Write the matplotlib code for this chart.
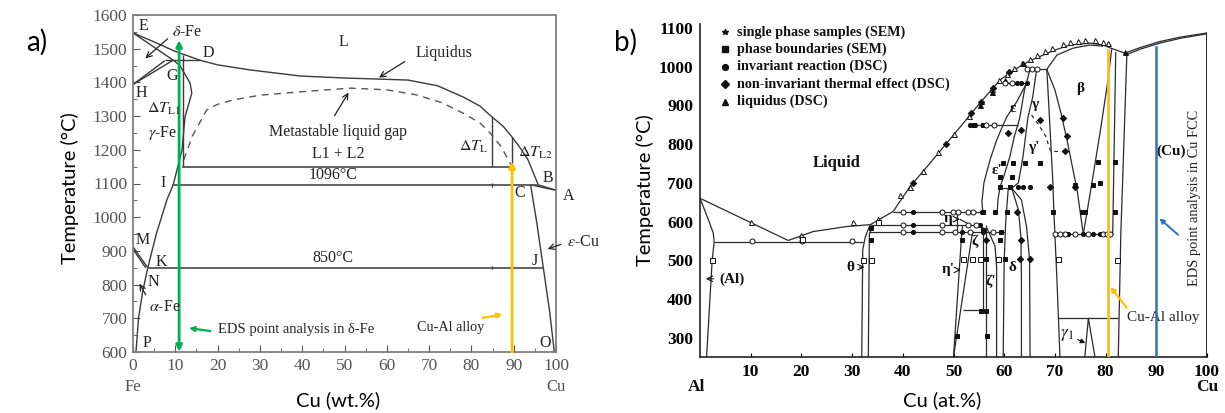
import matplotlib
matplotlib.use("Agg")
import matplotlib.pyplot as plt
from matplotlib.ticker import MultipleLocator

plt.rcParams["mathtext.fontset"] = "stix"
SERIF = ["Liberation Serif", "DejaVu Serif"]
SANS = ["Lato", "DejaVu Sans"]

# ---------------- Fe-Cu phase diagram (wt.% Cu) ----------------
fe_liquidus = [(0, 1547), (5, 1520), (10, 1492), (15.8, 1466), (20, 1452), (27.7, 1437),
               (39.5, 1419), (50, 1413), (57.6, 1410), (65, 1407), (72, 1390), (78, 1357),
               (82, 1330), (84.9, 1297), (87.5, 1270), (89.6, 1238), (91.5, 1206),
               (93.4, 1170), (95.8, 1096)]
fe_delta_solidus = [(0, 1547), (9.5, 1466)]
fe_peritectic = [(7.5, 1466), (15.8, 1466)]
fe_delta_gamma_a = [(0, 1394), (7.5, 1464)]
fe_delta_gamma_b = [(0, 1394), (9.5, 1466)]
fe_gamma_solidus = [(9.5, 1466), (11.1, 1450), (13.5, 1398), (13.9, 1368), (12.3, 1298),
                    (11.6, 1200), (10.6, 1150), (9.5, 1096)]
fe_gamma_solvus = [(9.5, 1096), (8.0, 1051), (5.5, 950), (3.5, 850)]
fe_alpha_solvus = [(3.5, 850), (2.3, 780), (1.3, 700), (0.7, 600)]
fe_m_line_a = [(0, 912), (3.5, 850)]
fe_m_line_b = [(0, 905), (3.0, 850)]
fe_eutectoid = [(3.5, 850), (97.0, 850)]
fe_monotectic = [(9.5, 1096), (95.8, 1096)]
fe_l1l2_line = [(11.8, 1150), (89.6, 1150)]
fe_dT_L1 = [(11.8, 1150), (11.8, 1481)]
fe_dT_L = [(84.9, 1150), (84.9, 1297)]
fe_dT_L2 = [(89.6, 1150), (89.6, 1238)]
fe_cu_liquidus = [(95.8, 1096), (100, 1080)]
fe_cu_solidus = [(94.0, 1096), (100, 1080)]
fe_cu_solvus = [(94.0, 1096), (95.5, 980), (97.0, 850), (98.5, 720), (99.6, 600)]
fe_gap_x = [12, 14, 17.4, 20, 23.7, 30, 39.5, 51.3, 60, 67, 73, 78, 82, 84.4, 87, 89.6]
fe_gap_T = [1170, 1240, 1318, 1335, 1348, 1362, 1372, 1383, 1378, 1363, 1340, 1309,
            1280, 1250, 1210, 1150]
fe_xticks = list(range(0, 101, 10))
fe_yticks = list(range(600, 1601, 100))
fe_eds_x = 10.9
fe_alloy_x = 89.6

# ---------------- Al-Cu phase diagram (at.% Cu) ----------------
al_liquidus = [(0, 660), (17.4, 551)]
al_solidus = [(0, 660), (1.5, 610), (2.6, 571), (2.8, 548)]
al_solvus = [(2.8, 548), (2.4, 500), (1.3, 250)]
al_eutectic = [(2.8, 548), (32.2, 548)]
main_liquidus = [(17.4, 551), (22.3, 574), (28.9, 587), (33.6, 592), (38.1, 626), (41.4, 690),
                 (45, 745), (48.5, 800), (52, 855), (55.2, 906), (59.2, 966), (62.5, 996),
                 (65, 1015), (67.7, 1030), (70, 1043), (73, 1056), (77, 1061), (79.5, 1056),
                 (81, 1048), (83.8, 1035)]
cu_liquidus = [(83.8, 1035), (87, 1050), (90.7, 1065), (95, 1077), (100, 1087)]
cu_solidus = [(84.3, 1032), (87, 1046), (90.7, 1061), (95, 1074), (100, 1085)]
beta_top = [(68.4, 993), (70.4, 1030), (73.6, 1048), (76.9, 1056), (79.5, 1053)]
theta_left = [(31.9, 250), (32.1, 527), (32.6, 560), (33.5, 590)]
theta_right = [(33.2, 250), (33.4, 566), (33.9, 586)]
iso_624 = [(38.1, 624), (55.9, 624)]
iso_590 = [(33.6, 590), (54.8, 590)]
iso_574 = [(33.4, 574), (60.2, 574)]
iso_850 = [(52.9, 850), (62.7, 850)]
iso_957 = [(59.8, 957), (64.4, 957)]
iso_993 = [(65.1, 993), (68.4, 993)]
iso_686 = [(58.8, 686), (61.5, 686)]
iso_567 = [(70.0, 567), (81.4, 567)]
iso_350 = [(70.7, 350), (82.5, 350)]
eta_box = [(50.6, 624), (50.6, 574)]
eta_diag = [(51.2, 606), (53.5, 590)]
etap_left = [(50.0, 250), (51.6, 565), (51.8, 590)]
etap_right = [(50.0, 250), (53.6, 560), (53.9, 574)]
zeta_top = [(54.8, 590), (56.0, 582), (56.5, 574)]
zeta_left = [(55.8, 574), (55.8, 372)]
zeta_floor = [(51.9, 372), (56.2, 372)]
zetap_left = [(56.5, 590), (56.5, 250)]
zetap_right = [(56.6, 583), (58.2, 536), (58.5, 484), (58.5, 250)]
eps1_outer = [(64.4, 957), (62.5, 910), (60.5, 870), (59.8, 850), (58.5, 810), (57.2, 759),
              (56.0, 700), (55.6, 650), (55.8, 624)]
eps1_inner = [(65.1, 993), (64.0, 940), (63.1, 870), (62.7, 850), (62.0, 820), (61.1, 767),
              (60.0, 720), (59.2, 690), (58.8, 660), (58.6, 624)]
gamma_left = [(66.4, 993), (65.6, 920), (64.7, 870), (63.7, 767), (62.8, 700), (61.5, 686)]
gamma_beta = [(68.4, 993), (68.8, 900), (69.2, 800), (69.6, 700), (69.8, 624), (70.0, 567),
              (70.4, 450), (70.7, 350), (71.0, 250)]
beta_left = [(68.4, 993), (70.0, 940), (71.2, 880), (72.4, 810), (73.3, 751), (74.4, 680),
             (75.6, 567)]
beta_right = [(75.6, 567), (77.3, 700), (78.9, 829), (80.3, 950), (81.2, 1045)]
beta_cu = [(82.0, 1038), (81.7, 800), (81.4, 567)]
cu_solvus = [(84.2, 1034), (83.6, 800), (83.0, 567), (82.5, 250)]
gamma1 = [(75.9, 250), (76.6, 350), (77.9, 250)]
delta_a = [(60.8, 686), (60.3, 600), (60.0, 500), (59.8, 250)]
delta_b = [(61.5, 686), (62.8, 630), (63.3, 560), (63.4, 450), (63.4, 250)]
delta_c = [(61.5, 686), (63.4, 656), (64.4, 587), (65.0, 503), (65.1, 250)]
gamma_order = [(65.4, 875), (66.8, 850), (68.2, 820), (68.8, 795), (69.2, 781), (72.6, 781)]
cu_edge = [(100, 250), (100, 1087)]

# measured points
liq_tri_open_x = [10, 20, 30.2, 35.1, 39.5, 41.5, 44, 47, 50, 53, 55.5, 57.5, 59, 60.5, 62,
                  63.5, 65, 66.5, 68, 69.5, 71.5, 73, 74.5, 76, 78, 79.5, 80.5]
liq_tri_open_T = [600, 566, 600, 606, 668, 690, 730, 780, 826, 873, 912, 942, 965, 982, 996,
                  1010, 1021, 1031, 1040, 1048, 1058, 1063, 1067, 1069, 1068, 1064, 1060]
liq_tri_fill_x = [55.2, 57.5, 60.2, 63.7, 83.8]
liq_tri_fill_T = [901, 935, 966, 1009, 1037]
noninv_x = [42.0, 48.5, 53.5, 55.5, 57.8, 61.0, 60.8, 63.4, 67.1, 71.6, 72.4, 69.0, 74.0,
            62.5, 63.4, 65.1, 63.1, 56.5, 72.0]
noninv_T = [700, 800, 880, 910, 945, 985, 829, 837, 863, 867, 820, 690, 690, 624, 553,
            503, 503, 553, 781]
bound_x = [33.7, 33.7, 51.6, 59.2, 55.5, 56.5, 50.6, 56.6, 59.2, 61.5, 59.2, 61.2, 55.8,
           58.2, 60.5, 69.6, 75.3, 76.0, 81.9, 55.8, 59.3, 78.5, 81.9, 77.6, 74.0, 78.9,
           59.8, 61.8, 64.1, 67.1, 56.5, 60.2, 54.0, 55.8]
bound_T = [583, 553, 553, 553, 368, 368, 303, 303, 716, 716, 690, 690, 624, 624, 624, 624,
           624, 624, 624, 577, 574, 755, 755, 695, 695, 700, 751, 751, 751, 751, 503, 503,
           850, 850]
inv_x = [42.1, 55.6, 42.1, 55.2, 42.1, 51.6, 55.8, 53.3, 54.2, 62.5, 63.4, 64.4, 72.6,
         77.5, 78.9, 75.6, 62.8, 63.7, 65.1]
inv_T = [624, 624, 590, 590, 574, 574, 574, 850, 850, 957, 957, 957, 567, 567, 567, 567,
         690, 690, 690]
open_circ_x = [10.2, 20.1, 29.9, 40.1, 47.7, 49.9, 50.9, 52.9, 53.9, 40.1, 47.7, 52.9, 54.5,
               40.1, 47.7, 50.2, 53.2, 57.7, 56.5, 57.9, 60.2, 61.5, 64.4, 65.4, 66.4, 70.0,
               71.0, 72.0, 74.0, 76.5, 79.5, 80.2, 80.9]
open_circ_T = [550, 550, 550, 624, 624, 624, 624, 624, 624, 590, 590, 590, 590, 574, 574,
               574, 574, 574, 850, 850, 957, 957, 993, 993, 993, 567, 567, 567, 567, 567,
               567, 567, 567]
open_sq_x = [2.3, 20.1, 32.1, 33.7, 35.1, 51.9, 53.6, 55.2, 58.8, 70.7, 82.2]
open_sq_T = [501, 555, 501, 501, 600, 503, 503, 503, 503, 503, 501]
al_xticks = list(range(10, 101, 10))
al_yticks = list(range(300, 1101, 100))
al_eds_x = 90
al_alloy_x = 80.5
legend_labels = ["single phase samples (SEM)", "phase boundaries (SEM)",
                 "invariant reaction (DSC)", "non-invariant thermal effect (DSC)",
                 "liquidus (DSC)"]
legend_T = [1090, 1045, 1000, 955, 910]

GREEN = "#00b050"
GOLD = "#ffc000"
BLUE = "#2e75b6"
LINE_A = "#3a3a3a"
GRAY = "#555555"


def trace(ax, pts, **kw):
    xs, ys = zip(*pts)
    ax.plot(xs, ys, **kw)


fig = plt.figure(figsize=(12.25, 4.13), dpi=100)

# ======================= panel a =======================
axA = fig.add_axes([133 / 1225, 61 / 413, 423 / 1225, 337 / 413])
axA.set_xlim(0, 100)
axA.set_ylim(600, 1600)
for sp in axA.spines.values():
    sp.set_color("#7f7f7f")
    sp.set_linewidth(1.3)
axA.set_xticks(fe_xticks)
axA.set_yticks(fe_yticks)
axA.xaxis.set_minor_locator(MultipleLocator(5))
axA.yaxis.set_minor_locator(MultipleLocator(50))
axA.tick_params(which="both", direction="in", top=False, right=False, color="#555555",
                labelcolor=GRAY, labelsize=12.5, pad=4)
axA.tick_params(which="major", length=5)
axA.tick_params(which="minor", length=3)
for lab in axA.get_xticklabels() + axA.get_yticklabels():
    lab.set_family(SERIF)

kwA = dict(color=LINE_A, lw=1.0, solid_capstyle="butt")
for seg in [fe_liquidus, fe_delta_solidus, fe_peritectic, fe_delta_gamma_a, fe_delta_gamma_b,
            fe_gamma_solidus, fe_gamma_solvus, fe_alpha_solvus, fe_m_line_a, fe_m_line_b,
            fe_cu_liquidus, fe_cu_solidus, fe_cu_solvus, fe_dT_L1, fe_dT_L, fe_dT_L2]:
    trace(axA, seg, **kwA)
for seg in [fe_eutectoid, fe_monotectic, fe_l1l2_line]:
    trace(axA, seg, color="#555555", lw=1.3)
axA.plot(fe_gap_x, fe_gap_T, color="#555555", lw=1.0, ls=(0, (5, 4)))
axA.plot([84.9, 84.9], [1090, 1102], **kwA)
axA.plot([84.9, 84.9], [845, 856], **kwA)

# marker lines for the analysed compositions
axA.annotate("", xy=(fe_eds_x, 1525), xytext=(fe_eds_x, 601),
             arrowprops=dict(arrowstyle="<|-|>", color=GREEN, lw=2, mutation_scale=9,
                             shrinkA=0, shrinkB=0))
axA.annotate("", xy=(fe_alloy_x, 1165), xytext=(fe_alloy_x, 600),
             arrowprops=dict(arrowstyle="-|>", color=GOLD, lw=2, mutation_scale=9,
                             shrinkA=0, shrinkB=0))
axA.annotate("", xy=(12.6, 672), xytext=(18.9, 661),
             arrowprops=dict(arrowstyle="-|>", color=GREEN, lw=1.6, mutation_scale=7))
axA.annotate("", xy=(88.0, 713), xytext=(82.0, 700),
             arrowprops=dict(arrowstyle="-|>", color=GOLD, lw=1.6, mutation_scale=7))

tA = dict(family=SERIF, fontsize=11.5, color="#222222", ha="center", va="center")
axA.text(2.4, 1568, "E", **tA)
axA.text(12.8, 1550, r"$\delta$-Fe", **tA)
axA.annotate("", xy=(2.4, 1466), xytext=(8.7, 1535),
             arrowprops=dict(arrowstyle="->", color="#222222", lw=0.9))
axA.text(17.8, 1487, "D", **tA)
axA.text(9.2, 1419, "G", **tA)
axA.text(2.1, 1368, "H", **tA)
axA.text(7.3, 1322, r"$\Delta T_{\mathrm{L1}}$", **tA)
axA.text(7.1, 1250, r"$\gamma$-Fe", **tA)
axA.text(7.0, 1101, "I", **tA)
axA.text(49.7, 1520, "L", **tA)
axA.text(73.5, 1487, "Liquidus", **tA)
axA.annotate("", xy=(57.6, 1410), xytext=(64.8, 1466),
             arrowprops=dict(arrowstyle="->", color="#222222", lw=0.9))
axA.text(48.5, 1253, "Metastable liquid gap", **tA)
axA.annotate("", xy=(51.3, 1377), xytext=(47.3, 1294),
             arrowprops=dict(arrowstyle="->", color="#222222", lw=0.9))
axA.text(48.5, 1188, "L1 + L2", **tA)
axA.text(47.3, 1125, "1096°C", **tA)
axA.text(80.5, 1208, r"$\Delta T_{\mathrm{L}}$", **tA)
axA.text(95.0, 1190, r"$\Delta T_{\mathrm{L2}}$", **tA)
axA.text(98.0, 1116, "B", **tA)
axA.text(91.5, 1071, "C", **tA)
axA.text(103.0, 1063, "A", clip_on=False, **tA)
axA.text(106.5, 927, r"$\varepsilon$-Cu", clip_on=False, **tA)
axA.annotate("", xy=(97.4, 903), xytext=(101.8, 922), annotation_clip=False,
             arrowprops=dict(arrowstyle="->", color="#222222", lw=0.9))
axA.text(95.0, 869, "J", **tA)
axA.text(97.4, 627, "O", **tA)
axA.text(47.3, 880, "850°C", **tA)
axA.text(2.4, 932, "M", **tA)
axA.text(6.8, 868, "K", **tA)
axA.text(4.9, 808, "N", **tA)
axA.text(7.4, 734, r"$\alpha$-Fe", **tA)
axA.annotate("", xy=(1.2, 810), xytext=(3.3, 763),
             arrowprops=dict(arrowstyle="->", color="#222222", lw=0.9))
axA.text(3.3, 627, "P", **tA)
axA.text(20.0, 668, "EDS point analysis in δ-Fe", family=SERIF, fontsize=10.5,
         color="#222222", ha="left", va="center")
axA.text(75.2, 674, "Cu-Al alloy", family=SERIF, fontsize=10.3, color="#222222",
         ha="center", va="center")
axA.text(0, 495, "Fe", clip_on=False, family=SERIF, fontsize=12, color=GRAY,
         ha="center", va="center")
axA.text(100, 495, "Cu", clip_on=False, family=SERIF, fontsize=12, color=GRAY,
         ha="center", va="center")

# ======================= panel b =======================
axB = fig.add_axes([700 / 1225, 56 / 413, 507 / 1225, 332.9 / 413])
axB.set_xlim(0, 100)
axB.set_ylim(250, 1110)
axB.spines["top"].set_visible(False)
axB.spines["right"].set_visible(False)
for side in ("left", "bottom"):
    axB.spines[side].set_linewidth(1.2)
    axB.spines[side].set_color("#222222")
axB.set_xticks(al_xticks)
axB.set_yticks(al_yticks)
axB.tick_params(axis="x", direction="in", length=3, labelsize=12.5, pad=5)
axB.tick_params(axis="y", length=0, labelsize=12.5, pad=5)
for lab in axB.get_xticklabels() + axB.get_yticklabels():
    lab.set_family(SERIF)
    lab.set_fontweight("bold")

kwB = dict(color="#2a2a2a", lw=0.9, solid_capstyle="butt")
for seg in [al_liquidus, al_solidus, al_solvus, al_eutectic, main_liquidus, cu_liquidus,
            cu_solidus, beta_top, theta_left, theta_right, iso_624, iso_590, iso_574,
            iso_850, iso_957, iso_993, iso_686, iso_567, iso_350, eta_box, eta_diag,
            etap_left, etap_right, zeta_top, zeta_left, zeta_floor, zetap_left, zetap_right,
            eps1_outer, eps1_inner, gamma_left, gamma_beta, beta_left, beta_right, beta_cu,
            cu_solvus, gamma1, delta_a, delta_b, delta_c]:
    trace(axB, seg, **kwB)
trace(axB, gamma_order, color="#2a2a2a", lw=0.9, ls=(0, (3, 3)))
trace(axB, cu_edge, color="#222222", lw=1.4)

mk = dict(ls="none", color="#111111", ms=3.6, mew=0.7, zorder=4)
axB.plot(liq_tri_open_x, liq_tri_open_T, marker="^", mfc="white", **mk)
axB.plot(liq_tri_fill_x, liq_tri_fill_T, marker="^", **mk)
axB.plot(noninv_x, noninv_T, marker="D", **{**mk, "ms": 3.2})
axB.plot(bound_x, bound_T, marker="s", **{**mk, "ms": 3.4})
axB.plot(inv_x, inv_T, marker="o", **{**mk, "ms": 3.0})
axB.plot(open_circ_x, open_circ_T, marker="o", mfc="white", **{**mk, "ms": 3.6})
axB.plot(open_sq_x, open_sq_T, marker="s", mfc="white", **{**mk, "ms": 3.6})

# legend block
legend_markers = ["*", "s", "o", "D", "^"]
for m, lab, T in zip(legend_markers, legend_labels, legend_T):
    axB.plot([4.9], [T], marker=m, ls="none", color="#111111", ms=4.2, clip_on=False)
    axB.text(7.2, T, lab, family=SERIF, fontsize=10.2, fontweight="bold", ha="left",
             va="center", color="#111111")

tB = dict(family=SERIF, fontsize=11, fontweight="bold", color="#111111",
          ha="center", va="center")
axB.text(27.0, 751, "Liquid", **{**tB, "fontsize": 12})
axB.text(75.0, 944, "β", **tB)
axB.text(66.1, 903, "γ", **tB)
axB.text(61.8, 893, "ε", **tB)
axB.text(65.8, 790, "γ'", **tB)
axB.text(58.6, 731, "ε'", **tB)
axB.text(93.0, 781, "(Cu)", **tB)
axB.text(49.0, 609, "η", **tB)
axB.annotate("", xy=(51.8, 606), xytext=(50.0, 606),
             arrowprops=dict(arrowstyle="->", color="#111111", lw=0.8))
axB.text(54.2, 549, "ζ", **tB)
axB.text(48.9, 475, "η'", **tB)
axB.annotate("", xy=(52.0, 475), xytext=(50.3, 475),
             arrowprops=dict(arrowstyle="->", color="#111111", lw=0.8))
axB.text(57.3, 445, "ζ'", **tB)
axB.text(61.6, 480, "δ", **tB)
axB.text(29.6, 480, "θ", **tB)
axB.annotate("", xy=(33.0, 482), xytext=(30.9, 482),
             arrowprops=dict(arrowstyle="->", color="#111111", lw=0.8))
axB.text(6.4, 452, "(Al)", **tB)
axB.annotate("", xy=(0.6, 452), xytext=(3.2, 452),
             arrowprops=dict(arrowstyle="->", color="#111111", lw=0.8))
axB.text(72.3, 308, r"$\gamma_1$", family=SERIF, fontsize=12.5, color="#111111",
         ha="center", va="center")
axB.annotate("", xy=(76.5, 283), xytext=(74.0, 298),
             arrowprops=dict(arrowstyle="-|>", color="#111111", lw=0.8, mutation_scale=7))

# analysed compositions
axB.plot([al_alloy_x, al_alloy_x], [250, 1043], color=GOLD, lw=2, zorder=5)
axB.plot([al_eds_x, al_eds_x], [250, 1052], color=BLUE, lw=1.8, zorder=5)
axB.annotate("", xy=(80.6, 437), xytext=(84.5, 372),
             arrowprops=dict(arrowstyle="-|>", color=GOLD, lw=1.6, mutation_scale=7))
axB.annotate("", xy=(90.2, 613), xytext=(94.7, 561),
             arrowprops=dict(arrowstyle="-|>", color=BLUE, lw=1.4, mutation_scale=7))
axB.text(84.3, 351, "Cu-Al alloy", family=SERIF, fontsize=11, color="#222222",
         ha="left", va="center")
axB.text(97.6, 660, "EDS point analysis in Cu FCC", family=SERIF, fontsize=10.4,
         color="#222222", ha="center", va="center", rotation=90)
axB.text(-0.6, 172, "Al", clip_on=False, **{**tB, "fontsize": 12.5})
axB.text(100, 172, "Cu", clip_on=False, **{**tB, "fontsize": 12.5})

# axis titles and panel letters
fig.text(70 / 1225, 1 - 188 / 413, "Temperature (°C)", rotation=90, family=SANS,
         fontsize=14.5, ha="center", va="center")
fig.text(338 / 1225, 1 - 400 / 413, "Cu (wt.%)", family=SANS, fontsize=14.5,
         ha="center", va="center")
fig.text(645 / 1225, 1 - 190 / 413, "Temperature (°C)", rotation=90, family=SANS,
         fontsize=14.5, ha="center", va="center")
fig.text(942 / 1225, 1 - 400 / 413, "Cu (at.%)", family=SANS, fontsize=14.5,
         ha="center", va="center")
fig.text(37 / 1225, 1 - 42 / 413, "a)", family=SANS, fontsize=20, ha="center", va="center")
fig.text(625 / 1225, 1 - 42 / 413, "b)", family=SANS, fontsize=20, ha="center", va="center")

fig.savefig("out.png", dpi=100)
